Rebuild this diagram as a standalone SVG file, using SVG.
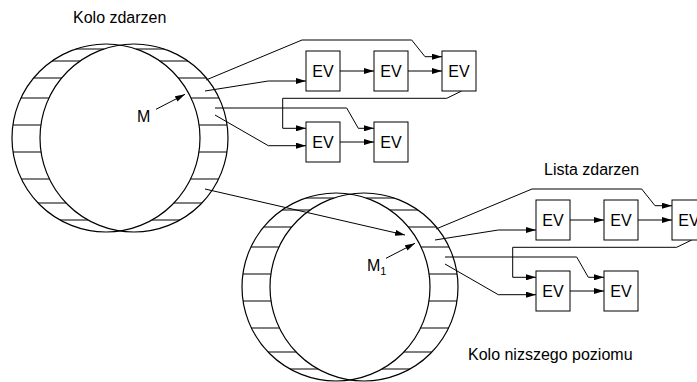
<svg xmlns="http://www.w3.org/2000/svg" width="697" height="382" viewBox="0 0 697 382">
<defs>
<style>
.w{fill:none;stroke:#000;stroke-width:1.2}
.h{fill:none;stroke:#000;stroke-width:1.1}
.ln{fill:none;stroke:#000;stroke-width:1}
.box{fill:#fff;stroke:#000;stroke-width:1}
.t{font-family:"Liberation Sans",Arial,Helvetica,sans-serif;font-size:16px;fill:#000}
.ev{font-family:"Liberation Sans",Arial,Helvetica,sans-serif;font-size:16px;fill:#000;text-anchor:middle}
</style>
<marker id="ah" markerUnits="userSpaceOnUse" markerWidth="10" markerHeight="6" refX="10" refY="3" orient="auto">
<path d="M0,0 L10,3 L0,6 z" fill="#000"/>
</marker>
<g id="wheel">
<circle class="w" cx="106" cy="138" r="94"/>
<circle class="w" cx="134" cy="138" r="94"/>
<path class="h" d="M75.8,49H103.8M136.2,49H164.2M52.1,61H80.1M159.9,61H187.9M33.6,78H61.6M178.4,78H206.4M20.9,98H48.9M191.1,98H219.1M12.9,125H40.9M199.1,125H227.1M13.1,152H41.1M199,152H227M21.4,179H49.4M190.6,179H218.6M38.1,203H66.1M173.9,203H201.9M60,220H88M152,220H180"/>
</g>
<g id="lists">
<path class="ln" d="M206,80 L302,40 L411.7,40 L425,56.7 L442,56.7" marker-end="url(#ah)"/>
<path class="ln" d="M205,91 L268.3,81 L306,81" marker-end="url(#ah)"/>
<path class="ln" d="M340,71 L374,71" marker-end="url(#ah)"/>
<path class="ln" d="M408,71 L442,71" marker-end="url(#ah)"/>
<path class="ln" d="M461.7,91 L446.7,98.3 L282.7,98.3 L282.7,128.3 L306,128.3" marker-end="url(#ah)"/>
<path class="ln" d="M215,108 L346.7,108 L358.3,128.3 L374,128.3" marker-end="url(#ah)"/>
<path class="ln" d="M215,115 L268.3,145.7 L306,145.7" marker-end="url(#ah)"/>
<path class="ln" d="M340,142 L374,142" marker-end="url(#ah)"/>
</g>
</defs>

<g id="wheel-1">
<use href="#wheel"/>
<text class="t" x="137" y="122">M</text>
</g>
<g id="wheel-2">
<use href="#wheel" transform="translate(230,149)"/>
<text class="t" x="367" y="271">M<tspan font-size="11" dy="4">1</tspan></text>
</g>

<g id="connectors">
<use href="#lists"/>
<use href="#lists" transform="translate(230,149)"/>
<path class="ln" d="M156,109.3 L185,94.3" marker-end="url(#ah)"/>
<path class="ln" d="M386,258.3 L415,243.3" marker-end="url(#ah)"/>
<path class="ln" d="M205,189 L405,235" marker-end="url(#ah)"/>
</g>

<g id="ev-1-1"><rect class="box" x="306" y="51" width="34" height="40"/><text class="ev" x="323" y="77">EV</text></g>
<g id="ev-1-2"><rect class="box" x="374" y="51" width="34" height="40"/><text class="ev" x="391" y="77">EV</text></g>
<g id="ev-1-3"><rect class="box" x="442" y="51" width="34" height="40"/><text class="ev" x="459" y="77">EV</text></g>
<g id="ev-1-4"><rect class="box" x="306" y="122" width="34" height="40"/><text class="ev" x="323" y="148">EV</text></g>
<g id="ev-1-5"><rect class="box" x="374" y="122" width="34" height="40"/><text class="ev" x="391" y="148">EV</text></g>

<g id="ev-2-1"><rect class="box" x="536" y="200" width="34" height="40"/><text class="ev" x="553" y="226">EV</text></g>
<g id="ev-2-2"><rect class="box" x="604" y="200" width="34" height="40"/><text class="ev" x="621" y="226">EV</text></g>
<g id="ev-2-3"><rect class="box" x="672" y="200" width="34" height="40"/><text class="ev" x="689" y="226">EV</text></g>
<g id="ev-2-4"><rect class="box" x="536" y="271" width="34" height="40"/><text class="ev" x="553" y="297">EV</text></g>
<g id="ev-2-5"><rect class="box" x="604" y="271" width="34" height="40"/><text class="ev" x="621" y="297">EV</text></g>

<g id="labels">
<text class="t" x="73" y="23">Kolo zdarzen</text>
<text class="t" x="544" y="175">Lista zdarzen</text>
<text class="t" x="468" y="360">Kolo nizszego poziomu</text>
</g>
</svg>
